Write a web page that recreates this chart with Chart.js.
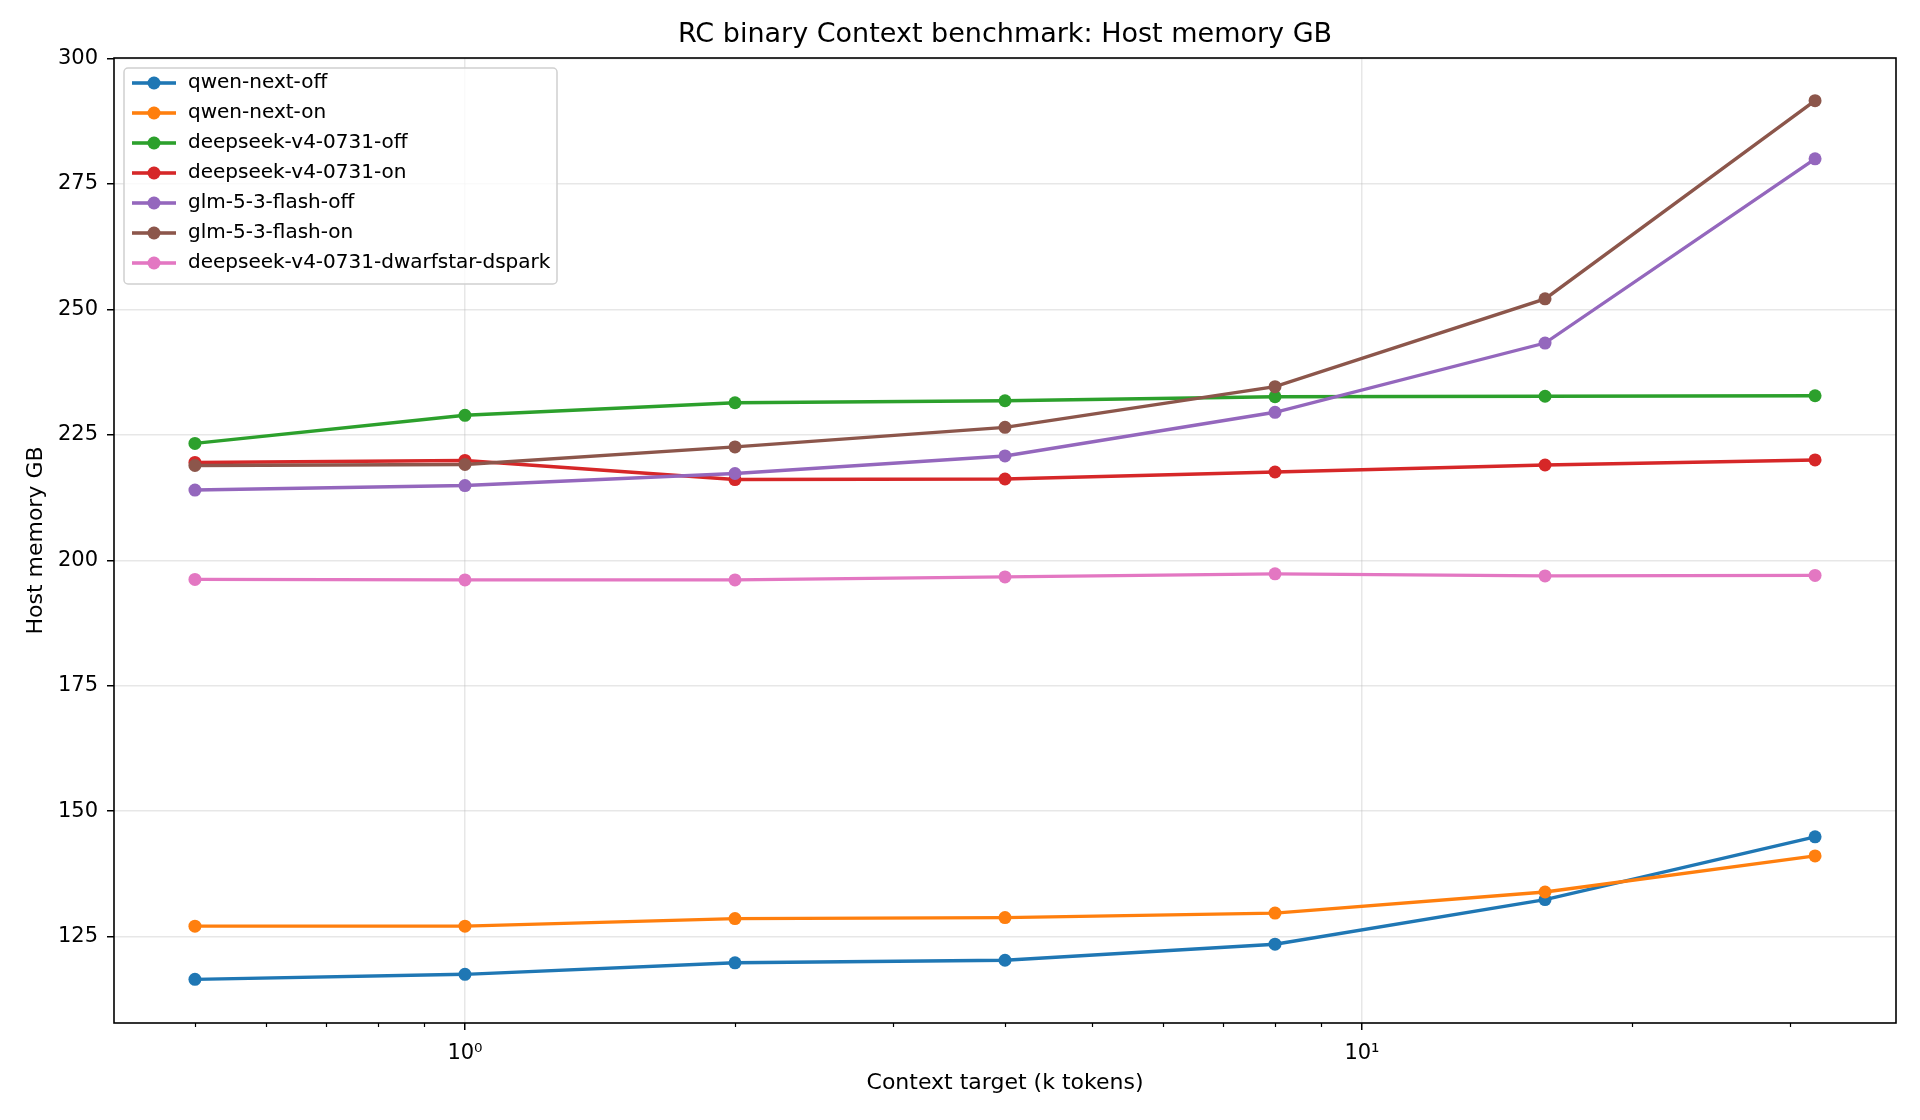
<!DOCTYPE html>
<html>
<head>
<meta charset="utf-8">
<title>RC binary Context benchmark: Host memory GB</title>
<script src="https://cdn.jsdelivr.net/npm/chart.js@4.4.1/dist/chart.umd.min.js"></script>
<style>
  html, body { margin: 0; padding: 0; background: #fff; }
  #wrap { width: 1920px; height: 1120px; }
</style>
</head>
<body>
<div id="wrap"><canvas id="memChart" width="1920" height="1120"></canvas></div>
<script>
// Context targets (k tokens), log x axis
const contextK = [0.5, 1, 2, 4, 8, 16, 32];

// Host memory GB per run
const qwenNextOff = [116.5, 117.5, 119.8, 120.3, 123.5, 132.4, 144.9];
const qwenNextOn = [127.1, 127.1, 128.6, 128.8, 129.7, 133.9, 141.1];
const deepseekOff = [223.3, 228.9, 231.4, 231.8, 232.6, 232.7, 232.8];
const deepseekOn = [219.5, 219.9, 216.1, 216.2, 217.6, 219.0, 220.0];
const glmFlashOff = [214.0, 214.9, 217.3, 220.8, 229.5, 243.3, 280.0];
const glmFlashOn = [218.9, 219.1, 222.6, 226.5, 234.6, 252.1, 291.6];
const deepseekDwarfstar = [196.2, 196.1, 196.1, 196.7, 197.3, 196.9, 197.0];

const seriesNames = ['qwen-next-off', 'qwen-next-on', 'deepseek-v4-0731-off', 'deepseek-v4-0731-on',
    'glm-5-3-flash-off', 'glm-5-3-flash-on', 'deepseek-v4-0731-dwarfstar-dspark'];
const seriesValues = [qwenNextOff, qwenNextOn, deepseekOff, deepseekOn, glmFlashOff, glmFlashOn, deepseekDwarfstar];
const seriesColors = ['#1f77b4', '#ff7f0e', '#2ca02c', '#d62728', '#9467bd', '#8c564b', '#e377c2'];

// Axis ticks
const xTicks = [0.5, 0.6, 0.7, 0.8, 0.9, 1, 2, 3, 4, 5, 6, 7, 8, 9, 10, 20, 30];
const xMajorLabels = { 1: '10\u2070', 10: '10\u00b9' };
const yTicks = [125, 150, 175, 200, 225, 250, 275, 300];

const FONT = "'DejaVu Sans', 'Liberation Sans', sans-serif";
const gridColor = 'rgba(176, 176, 176, 0.3)';

// legend handle: short line with a marker in the middle
function makeHandle(color) {
    const c = document.createElement('canvas');
    c.width = 44;
    c.height = 14;
    const g = c.getContext('2d');
    g.strokeStyle = color;
    g.lineWidth = 3.4;
    g.beginPath();
    g.moveTo(0, 7);
    g.lineTo(44, 7);
    g.stroke();
    g.fillStyle = color;
    g.beginPath();
    g.arc(22, 7, 6.5, 0, Math.PI * 2);
    g.fill();
    return c;
}
const handles = seriesColors.map(makeHandle);

const datasets = seriesNames.map((name, i) => ({
    label: name,
    data: contextK.map((x, j) => ({ x: x, y: seriesValues[i][j] })),
    borderColor: seriesColors[i],
    backgroundColor: seriesColors[i],
    borderWidth: 3.4,
    pointRadius: 6.5,
    pointHoverRadius: 6.5,
    pointBorderWidth: 0,
    tension: 0,
    order: -i // later series on top, like matplotlib
}));

// frame, minor x ticks and the framed legend
const framePlugin = {
    id: 'frame',
    afterLayout(chart) {
        const lg = chart.legend;
        const ca = chart.chartArea;
        if (lg) {
            lg.left = ca.left + 6;
            lg.top = ca.top + 5;
            lg.right = lg.left + 440;
            lg.bottom = lg.top + 225;
        }
    },
    afterDatasetsDraw(chart) {
        const ctx = chart.ctx;
        const ca = chart.chartArea;
        const xs = chart.scales.x;
        ctx.save();
        // minor ticks on the log axis
        ctx.strokeStyle = '#000';
        ctx.lineWidth = 1.2;
        xs.ticks.forEach(t => {
            if (xMajorLabels[t.value]) return;
            const px = Math.round(xs.getPixelForValue(t.value)) + 0.5;
            ctx.beginPath();
            ctx.moveTo(px, ca.bottom);
            ctx.lineTo(px, ca.bottom + 4);
            ctx.stroke();
        });
        // axes box
        ctx.lineWidth = 1.6;
        ctx.strokeStyle = '#000';
        ctx.strokeRect(ca.left, ca.top, ca.right - ca.left, ca.bottom - ca.top);
        // legend box
        const bx = ca.left + 10, by = ca.top + 10, bw = 433, bh = 216;
        ctx.beginPath();
        ctx.roundRect(bx, by, bw, bh, 4);
        ctx.fillStyle = 'rgba(255, 255, 255, 0.8)';
        ctx.fill();
        ctx.lineWidth = 1.5;
        ctx.strokeStyle = '#d0d0d0';
        ctx.stroke();
        ctx.restore();
        if (chart.legend) chart.legend.draw();
    }
};

const ctx = document.getElementById('memChart').getContext('2d');
new Chart(ctx, {
    type: 'line',
    data: { datasets: datasets },
    options: {
        responsive: false,
        animation: false,
        devicePixelRatio: 1,
        layout: { padding: { left: 0, right: 24, top: 0, bottom: 0 } },
        scales: {
            x: {
                type: 'logarithmic',
                min: 0.4062,
                max: 39.39,
                afterBuildTicks: (scale) => { scale.ticks = xTicks.map(v => ({ value: v })); },
                afterFit: (scale) => { scale.height = 97; },
                border: { display: false },
                grid: {
                    color: (c) => (c.tick && xMajorLabels[c.tick.value]) ? gridColor : 'rgba(0,0,0,0)',
                    tickColor: (c) => (c.tick && xMajorLabels[c.tick.value]) ? '#000' : 'rgba(0,0,0,0)',
                    lineWidth: 1.5,
                    tickWidth: 1.5,
                    tickLength: 7
                },
                ticks: {
                    autoSkip: false,
                    maxRotation: 0,
                    minRotation: 0,
                    padding: 11,
                    color: '#000',
                    font: { family: FONT, size: 21 },
                    callback: (v) => xMajorLabels[v] || ''
                },
                title: {
                    display: true,
                    text: 'Context target (k tokens)',
                    color: '#000',
                    font: { family: FONT, size: 22 },
                    padding: { top: 0, bottom: 24 }
                }
            },
            y: {
                min: 107.8,
                max: 300.1,
                afterBuildTicks: (scale) => { scale.ticks = yTicks.map(v => ({ value: v })); },
                afterFit: (scale) => { scale.width = 114; },
                border: { display: false },
                grid: {
                    color: gridColor,
                    lineWidth: 1.5,
                    tickColor: '#000',
                    tickWidth: 1.5,
                    tickLength: 7
                },
                ticks: {
                    padding: 9,
                    color: '#000',
                    font: { family: FONT, size: 21 },
                    callback: (v) => String(v)
                },
                title: {
                    display: true,
                    text: 'Host memory GB',
                    color: '#000',
                    font: { family: FONT, size: 22 },
                    padding: { top: 23, bottom: 0 }
                }
            }
        },
        plugins: {
            title: {
                display: true,
                fullSize: false,
                text: 'RC binary Context benchmark: Host memory GB',
                color: '#000',
                font: { family: FONT, size: 27, weight: 'normal' },
                padding: { top: 19, bottom: 6.6 }
            },
            legend: {
                position: 'chartArea',
                align: 'start',
                labels: {
                    color: '#000',
                    font: { family: FONT, size: 20 },
                    usePointStyle: true,
                    pointStyleWidth: 48,
                    padding: 10,
                    sort: (a, b) => a.datasetIndex - b.datasetIndex,
                    generateLabels: (chart) => {
                        const items = Chart.defaults.plugins.legend.labels.generateLabels(chart);
                        items.forEach(it => { it.pointStyle = handles[it.datasetIndex]; });
                        return items;
                    }
                }
            },
            tooltip: { enabled: false }
        }
    },
    plugins: [framePlugin]
});
</script>
</body>
</html>
